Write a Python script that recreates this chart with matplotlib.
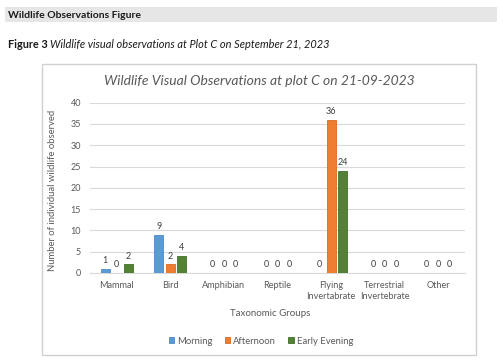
import matplotlib
matplotlib.use("Agg")
import matplotlib.pyplot as plt
from matplotlib.patches import Rectangle
import numpy as np

categories = ["Mammal", "Bird", "Amphibian", "Reptile", "Flying\nInvertabrate",
              "Terrestrial\nInvertebrate", "Other"]
series_names = ["Morning", "Afternoon", "Early Evening"]
morning = [1, 9, 0, 0, 0, 0, 0]
afternoon = [0, 2, 0, 0, 36, 0, 0]
early_evening = [2, 4, 0, 0, 24, 0, 0]
colors = ["#5B9BD5", "#ED7D31", "#548235"]
edge_colors = ["#4A8BC8", "#D96A20", "#43702A"]
yticks = [0, 5, 10, 15, 20, 25, 30, 35, 40]

plt.rcParams['font.family'] = ['Lato', 'DejaVu Sans']

W, H = 503, 361
fig = plt.figure(figsize=(W / 100, H / 100), dpi=100)

def fx(x):
    return x / W

def fy(y):
    return 1 - y / H

# heading bar
fig.patches.append(Rectangle((fx(5), fy(22)), fx(492), 15 / H, transform=fig.transFigure,
                             facecolor="#E6E6E6", edgecolor="none", zorder=0))
fig.text(fx(8), fy(15), "Wildlife Observations Figure", fontsize=7.5, fontweight="bold",
         va="center", ha="left", color="#1a1a1a")
t1 = fig.text(fx(8), fy(44), "Figure 3 ", fontsize=7.8, fontweight="bold",
              va="center", ha="left", color="#1a1a1a")
fig.canvas.draw()
bb = t1.get_window_extent()
fig.text(bb.x1 / W, fy(44), "Wildlife visual observations at Plot C on September 21, 2023",
         fontsize=7.9, style="italic", va="center", ha="left", color="#1a1a1a")

# chart border
fig.patches.append(Rectangle((fx(42), fy(355)), fx(434), (355 - 64) / H, transform=fig.transFigure,
                             facecolor="none", edgecolor="#D0D0D0", linewidth=1.0, zorder=0))

ax = fig.add_axes([fx(90), fy(273), fx(375), (273 - 102.7) / H])
x = np.arange(len(categories))
bw = 0.17
step = 0.215
data = [morning, afternoon, early_evening]
for i, (vals, name) in enumerate(zip(data, series_names)):
    pos = x + (i - 1) * step
    ax.bar(pos, vals, width=bw, color=colors[i], edgecolor=edge_colors[i],
           linewidth=0.6, label=name, zorder=3)
    for p, v in zip(pos, vals):
        ax.text(p, v + 0.9, str(v), ha="center", va="bottom", fontsize=6.5, color="#404040")

ax.set_xlim(-0.5, len(categories) - 0.5)
ax.set_ylim(0, 40)
ax.set_yticks(yticks)
ax.set_xticks(x)
ax.set_xticklabels(categories, fontsize=6.6, color="#595959", linespacing=1.3)
ax.tick_params(axis="y", labelsize=6.5, labelcolor="#595959", length=0, pad=6.5)
ax.tick_params(axis="x", length=0, pad=6)
ax.grid(axis="y", color="#D9D9D9", linewidth=0.8, zorder=0)
for s in ["top", "right", "left"]:
    ax.spines[s].set_visible(False)
ax.spines["bottom"].set_color("#D9D9D9")
ax.spines["bottom"].set_linewidth(0.8)

fig.text(fx(259), fy(81), "Wildlife Visual Observations at plot C on 21-09-2023",
         fontsize=10, style="italic", color="#595959", ha="center", va="center")
fig.text(fx(53), fy(190), "Number of individual wildlife observed", rotation=90,
         fontsize=6.8, color="#595959", ha="center", va="center")
fig.text(fx(270), fy(314), "Taxonomic Groups", fontsize=7, color="#595959",
         ha="center", va="center")

handles, labels = ax.get_legend_handles_labels()
fig.legend(handles, labels, loc="center", bbox_to_anchor=(fx(261), fy(341)), ncol=3,
           frameon=False, fontsize=6.8, handlelength=0.6, handleheight=0.6,
           handletextpad=0.3, columnspacing=1.3, labelcolor="#595959")

fig.savefig("out.png", dpi=100)
